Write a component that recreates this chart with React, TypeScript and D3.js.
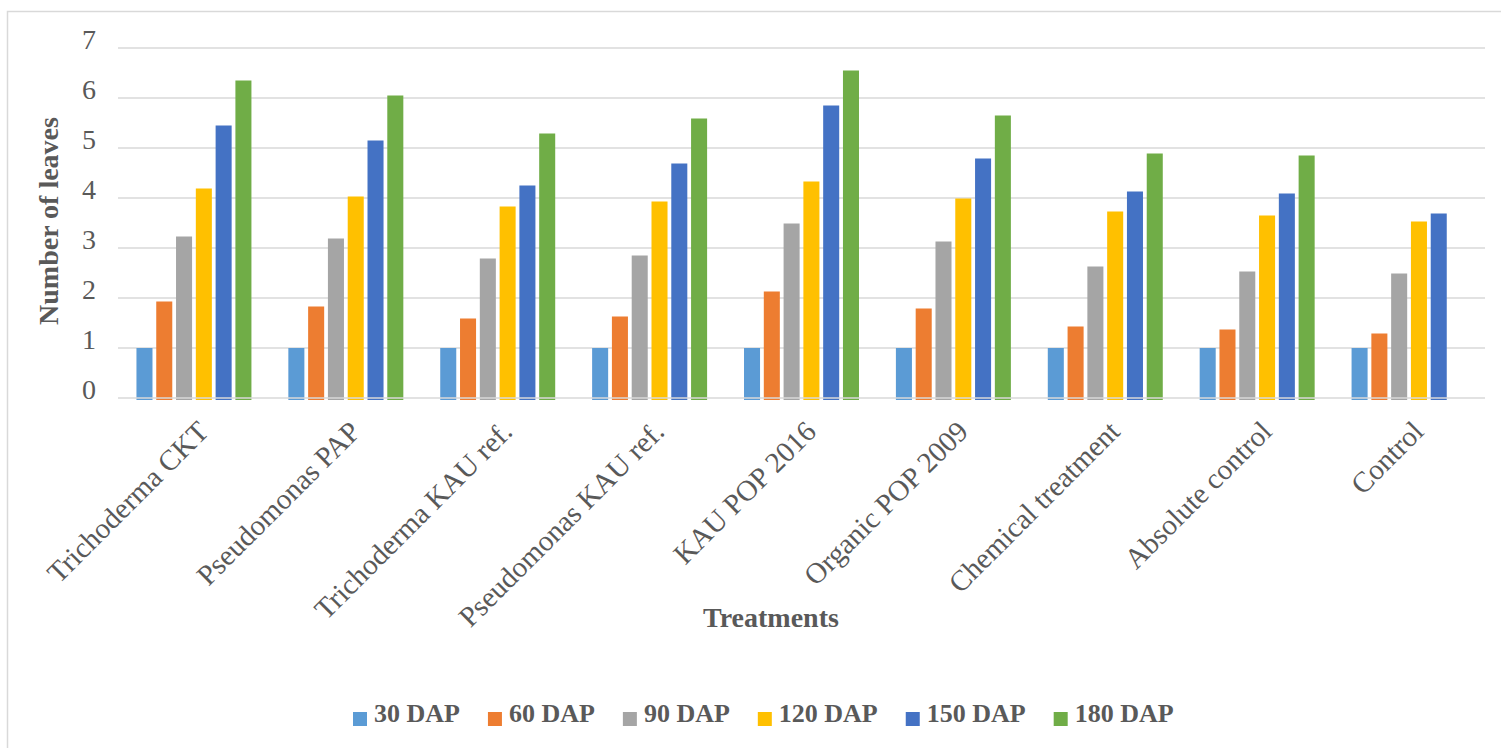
import React, { useEffect, useRef } from "react";
import * as d3 from "d3";

const categories = [
  "Trichoderma CKT",
  "Pseudomonas PAP",
  "Trichoderma KAU ref.",
  "Pseudomonas KAU ref.",
  "KAU POP 2016",
  "Organic POP 2009",
  "Chemical treatment",
  "Absolute control",
  "Control",
];

const seriesNames = ["30 DAP", "60 DAP", "90 DAP", "120 DAP", "150 DAP", "180 DAP"];

const dap30 = [1, 1, 1, 1, 1, 1, 1, 1, 1];
const dap60 = [1.93, 1.83, 1.59, 1.63, 2.13, 1.79, 1.43, 1.37, 1.29];
const dap90 = [3.23, 3.19, 2.79, 2.85, 3.49, 3.13, 2.63, 2.53, 2.49];
const dap120 = [4.19, 4.03, 3.83, 3.93, 4.33, 3.99, 3.73, 3.65, 3.53];
const dap150 = [5.45, 5.15, 4.25, 4.69, 5.85, 4.79, 4.13, 4.09, 3.69];
const dap180: (number | null)[] = [6.35, 6.05, 5.29, 5.59, 6.55, 5.65, 4.89, 4.85, null];

const yTicks = [0, 1, 2, 3, 4, 5, 6, 7];

const colors = ["#5B9BD5", "#ED7D31", "#A5A5A5", "#FFC000", "#4472C4", "#70AD47"];

const yTitle = "Number of leaves";
const xTitle = "Treatments";

const FONT = "'Liberation Serif', 'Times New Roman', serif";
const TEXT = "#595959";
const GRID = "#d9d9d9";

export default function App() {
  const ref = useRef<SVGSVGElement | null>(null);

  useEffect(() => {
    const svg = d3.select(ref.current);
    svg.selectAll("*").remove();

    const W = 1501;
    const H = 748;
    const left = 118;
    const right = 1485;
    const top = 48;
    const bottom = 398;

    const series = [dap30, dap60, dap90, dap120, dap150, dap180];

    svg
      .append("rect")
      .attr("x", 7.5)
      .attr("y", 11.5)
      .attr("width", W + 100)
      .attr("height", H + 100)
      .attr("fill", "#fff")
      .attr("stroke", GRID)
      .attr("stroke-width", 1.5);

    const y = d3.scaleLinear().domain([0, 7]).range([bottom, top]);
    const x0 = d3
      .scaleBand<string>()
      .domain(categories)
      .range([left, right])
      .paddingInner(0.243)
      .paddingOuter(0.1215);
    const x1 = d3
      .scaleBand<string>()
      .domain(seriesNames)
      .range([0, x0.bandwidth()])
      .paddingInner(0.19)
      .paddingOuter(0);

    // gridlines
    svg
      .append("g")
      .selectAll("line")
      .data(yTicks.filter((t) => t > 0))
      .join("line")
      .attr("x1", left)
      .attr("x2", right)
      .attr("y1", (d) => y(d))
      .attr("y2", (d) => y(d))
      .attr("stroke", GRID)
      .attr("stroke-width", 1.5);

    // y tick labels
    svg
      .append("g")
      .selectAll("text")
      .data(yTicks)
      .join("text")
      .attr("x", 96)
      .attr("y", (d) => y(d) + 1)
      .attr("text-anchor", "end")
      .attr("font-family", FONT)
      .attr("font-size", 28)
      .attr("fill", TEXT)
      .text((d) => String(d));

    // bars
    const bars = svg.append("g");
    categories.forEach((c, ci) => {
      seriesNames.forEach((s, si) => {
        const v = series[si][ci];
        if (v === null || v === undefined) return;
        bars
          .append("rect")
          .attr("x", (x0(c) as number) + (x1(s) as number))
          .attr("y", y(v))
          .attr("width", x1.bandwidth())
          .attr("height", y(0) - y(v) + 2)
          .attr("fill", colors[si]);
      });
    });

    // zero axis line
    svg
      .append("line")
      .attr("x1", left)
      .attr("x2", right)
      .attr("y1", y(0))
      .attr("y2", y(0))
      .attr("stroke", GRID)
      .attr("stroke-width", 1.5);

    // x labels
    const xfs = 29;
    svg
      .append("g")
      .selectAll("text")
      .data(categories)
      .join("text")
      .attr(
        "transform",
        (d) => `translate(${(x0(d) as number) + x0.bandwidth() / 2 - 2},415) rotate(-45)`
      )
      .attr("y", xfs * 0.891)
      .attr("text-anchor", "end")
      .attr("font-family", FONT)
      .attr("font-size", xfs)
      .attr("fill", TEXT)
      .text((d) => d);

    // y title
    svg
      .append("text")
      .attr("transform", "translate(58,221) rotate(-90)")
      .attr("text-anchor", "middle")
      .attr("font-family", FONT)
      .attr("font-size", 28)
      .attr("font-weight", "bold")
      .attr("fill", TEXT)
      .text(yTitle);

    // x title
    svg
      .append("text")
      .attr("x", 771)
      .attr("y", 627)
      .attr("text-anchor", "middle")
      .attr("font-family", FONT)
      .attr("font-size", 28)
      .attr("font-weight", "bold")
      .attr("fill", TEXT)
      .text(xTitle);

    // legend
    const lg = svg.append("g");
    let cx = 353;
    seriesNames.forEach((s, i) => {
      lg.append("rect")
        .attr("x", cx)
        .attr("y", 712)
        .attr("width", 14)
        .attr("height", 14)
        .attr("fill", colors[i]);
      const t = lg
        .append("text")
        .attr("x", cx + 21)
        .attr("y", 722)
        .attr("font-family", FONT)
        .attr("font-size", 26)
        .attr("font-weight", "bold")
        .attr("fill", TEXT)
        .text(s);
      const w = (t.node() as SVGTextElement).getComputedTextLength();
      cx = cx + 21 + w + 28;
    });
  }, []);

  return (
    <svg
      ref={ref}
      width={1501}
      height={748}
      style={{ position: "absolute", left: 0, top: 0, display: "block" }}
    />
  );
}
